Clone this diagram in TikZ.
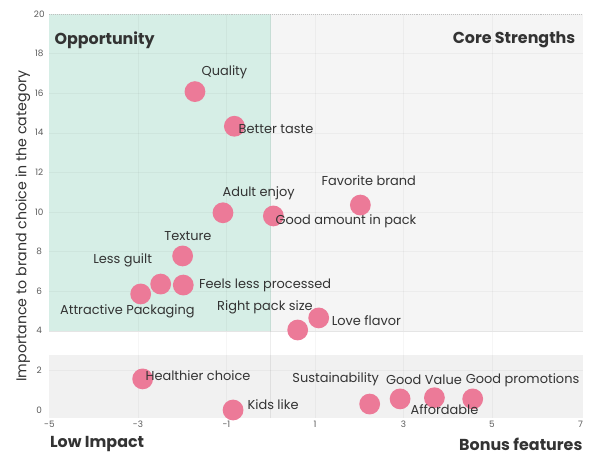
\documentclass[tikz,border=0pt]{standalone}
\usepackage{fontspec}
\setmainfont{Poppins}
\usepackage{tikz}
\definecolor{dotpink}{HTML}{EC7A98}
\definecolor{oppgreen}{HTML}{D6EEE6}
\definecolor{coregray}{HTML}{F5F5F5}
\definecolor{bandgray}{HTML}{F1F1F1}
\definecolor{txtgray}{HTML}{333333}
\tikzset{dot/.style={draw=none,shape=circle,fill=dotpink,inner sep=0pt,minimum size=0.52cm}}
\tikzset{lbl/.style={inner sep=0pt,text=txtgray,font=\fontsize{9.2}{11}\selectfont}}
\tikzset{tick/.style={inner sep=0pt,text=black!65,font=\fontsize{6.3}{7}\selectfont}}
\tikzset{head/.style={inner sep=0pt,text=txtgray,font=\fontsize{11.3}{13}\selectfont\bfseries}}

\begin{document}
\begin{tikzpicture}[x=1.10625cm, y=0.495cm]

\useasboundingbox (-6.117,-2.222) rectangle (7.284,20.707);

% quadrants
\fill [coregray] (0,4) rectangle (7.05,20);
\fill [oppgreen] (-5,4) rectangle (0,20);
\fill [bandgray] (-5,-0.42) rectangle (7.05,2.78);

% grid
\foreach \x in {-3,-1,1,3,5} {\draw [black, opacity=0.035, thin] (\x,-0.42) -- (\x,20);}
\foreach \y in {2,6,8,...,18} {\draw [black, opacity=0.035, thin] (-5,\y) -- (7.05,\y);}
\draw [black!10, thin] (-5,4) -- (7.05,4);
\draw [black, opacity=0.07, thin] (0,-0.42) -- (0,20);
\draw [black!25, densely dotted, thin] (-5,20) -- (7.05,20);

% ticks
\foreach \x in {-5,-3,...,7} {\node [tick] (xt\x) at (\x,-0.72) {\x};}
\foreach \y in {0,2,...,20} {\node [tick] (yt\y) at (-5.23,\y) {\y};}

\node [head, anchor=west] (opp) at (-4.89,18.69) {Opportunity};
\node [head, anchor=east] (core) at (6.89,18.72) {Core Strengths};
\node [head, anchor=west] (low) at (-4.99,-1.72) {Low Impact};
\node [head, anchor=east] (bonus) at (7.05,-1.72) {Bonus features};
\node [lbl, rotate=90, font=\fontsize{10.1}{12}\selectfont] (ylab) at (-5.60,9.29) {Importance to brand choice in the category};

% points
\foreach \x/\y/\n in {-1.711/16.08/quality, -0.820/14.33/taste, -1.078/9.96/adult,
  0.061/9.80/amount, 2.027/10.35/favorite, -1.99/7.78/texture, -2.486/6.36/guilt,
  -1.975/6.31/feels, -2.938/5.86/attractive, 0.610/4.04/rightpack, 1.085/4.65/love,
  -2.893/1.57/healthier, -0.850/0.0/kids, 2.237/0.30/sustain, 2.925/0.56/goodvalue,
  3.70/0.62/affordable, 4.565/0.56/promo}
  {\node [dot] (\n) at (\x,\y) {};}

\node [lbl] (quality-l) at (-1.045,17.04) {Quality};
\node [lbl] (taste-l) at (0.120,14.18) {Better taste};
\node [lbl] (adult-l) at (-0.272,10.94) {Adult enjoy};
\node [lbl] (amount-l) at (1.700,9.53) {Good amount in pack};
\node [lbl] (favorite-l) at (2.215,11.58) {Favorite brand};
\node [lbl] (texture-l) at (-1.870,8.79) {Texture};
\node [lbl] (guilt-l) at (-3.345,7.54) {Less guilt};
\node [lbl, anchor=west] (feels-l) at (-1.626,6.31) {Feels less processed};
\node [lbl] (attractive-l) at (-3.238,4.96) {Attractive Packaging};
\node [lbl] (rightpack-l) at (-0.129,5.17) {Right pack size};
\node [lbl] (love-l) at (2.162,4.51) {Love flavor};
\node [lbl] (healthier-l) at (-1.643,1.75) {Healthier choice};
\node [lbl] (kids-l) at (0.054,0.25) {Kids like};
\node [lbl] (sustain-l) at (1.470,1.55) {Sustainability};
\node [lbl] (goodvalue-l) at (3.463,1.52) {Good Value};
\node [lbl] (affordable-l) at (3.927,0.0) {Affordable};
\node [lbl] (promo-l) at (5.692,1.52) {Good promotions};

\end{tikzpicture}
\end{document}
